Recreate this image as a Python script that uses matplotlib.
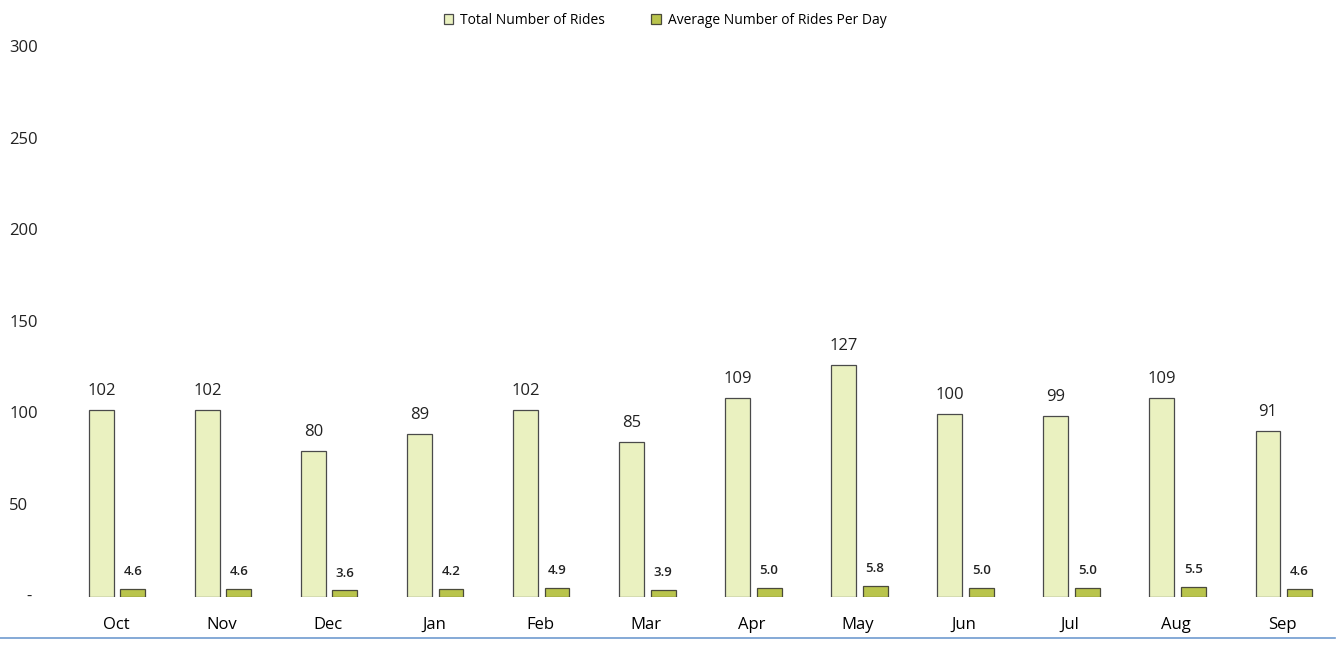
import numpy as np
import matplotlib.pyplot as plt
from matplotlib.lines import Line2D
from matplotlib.transforms import blended_transform_factory

months = ["Oct", "Nov", "Dec", "Jan", "Feb", "Mar", "Apr", "May", "Jun", "Jul", "Aug", "Sep"]
total_rides = [102, 102, 80, 89, 102, 85, 109, 127, 100, 99, 109, 91]
avg_rides = [4.6, 4.6, 3.6, 4.2, 4.9, 3.9, 5.0, 5.8, 5.0, 5.0, 5.5, 4.6]
yticks = [0, 50, 100, 150, 200, 250, 300]
ytick_labels = ["-", "50", "100", "150", "200", "250", "300"]

plt.rcParams['font.family'] = ['Open Sans', 'DejaVu Sans']

fig = plt.figure(figsize=(13.38, 6.49), dpi=100)
ax = fig.add_axes([0.047, 0.080, 0.951, 0.846])

x = np.arange(len(months))
w = 0.235
b1 = ax.bar(x - 0.135, total_rides, w, color="#eaf1c0", edgecolor="#4a4a4a", linewidth=0.9,
            label="Total Number of Rides")
b2 = ax.bar(x + 0.16, avg_rides, w, color="#b9c44c", edgecolor="#4a4a3a", linewidth=0.9,
            label="Average Number of Rides Per Day")

for xi, v in zip(x, total_rides):
    ax.text(xi - 0.135, v + 6, f"{v}", ha="center", va="bottom", fontsize=12, color="#222222")
for xi, v in zip(x, avg_rides):
    ax.text(xi + 0.16, v + 6, f"{v:.1f}", ha="center", va="bottom", fontsize=9.5,
            fontweight="semibold", color="#222222")

ax.set_xlim(-0.5, len(months) - 0.5)
ax.set_ylim(0, 300)
ax.set_xticks(x)
ax.set_xticklabels(months, fontsize=12)
ax.set_yticks(yticks)
ax.set_yticklabels([])
ax.tick_params(length=0)
ax.tick_params(axis="x", pad=14)

# y labels left-aligned near the figure edge
trans = blended_transform_factory(fig.transFigure, ax.transData)
for v, lab in zip(yticks, ytick_labels):
    ax.text(0.007 if lab != "-" else 0.02, v, lab, transform=trans, ha="left", va="center",
            fontsize=12, color="#222222")

for s in ax.spines.values():
    s.set_visible(False)

fig.legend(handles=[b1, b2], loc="upper center", bbox_to_anchor=(0.497, 1.0), ncol=2,
           frameon=False, fontsize=10, handlelength=0.7, handleheight=0.7,
           columnspacing=3.3, handletextpad=0.5)

fig.add_artist(Line2D([0.0, 0.998], [0.017, 0.017], color="#6f9bd0", linewidth=1.2))

fig.savefig("out.png", dpi=100)
